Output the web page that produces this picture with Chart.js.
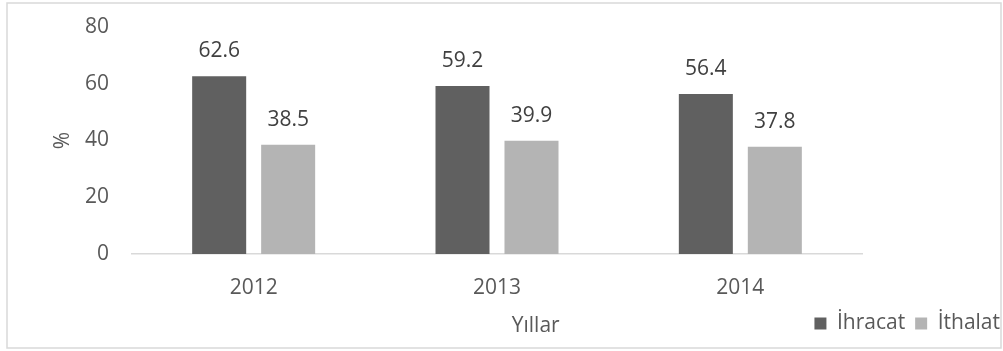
<!DOCTYPE html>
<html>
<head>
<meta charset="utf-8">
<script src="https://cdn.jsdelivr.net/npm/chart.js@4/dist/chart.umd.min.js"></script>
<style>
  html, body { margin: 0; padding: 0; background: #ffffff; }
  canvas { display: block; }
</style>
</head>
<body>
<canvas id="c" width="1003" height="351"></canvas>
<script>
// Years on the category axis
const years = ['2012', '2013', '2014'];
// Shares (%) per year
const ihracat = [62.6, 59.2, 56.4];
const ithalat = [38.5, 39.9, 37.8];
// Value axis ticks
const yTicks = [0, 20, 40, 60, 80];

const FONT = 'Open Sans';
const TEXT = '#595959';
const SIZE = 21;

// White background and thin frame round the whole chart
const frame = {
  id: 'frame',
  beforeDraw(chart) {
    const ctx = chart.ctx;
    ctx.save();
    ctx.fillStyle = '#ffffff';
    ctx.fillRect(0, 0, chart.width, chart.height);
    ctx.strokeStyle = '#d9d9d9';
    ctx.lineWidth = 1.5;
    ctx.strokeRect(7, 3, chart.width - 9, chart.height - 6);
    ctx.restore();
  }
};

// Value labels above each bar
const valueLabels = {
  id: 'valueLabels',
  afterDatasetsDraw(chart) {
    const ctx = chart.ctx;
    ctx.save();
    ctx.font = SIZE + 'px "' + FONT + '"';
    ctx.fillStyle = '#404040';
    ctx.textAlign = 'center';
    ctx.textBaseline = 'alphabetic';
    chart.data.datasets.forEach((ds, i) => {
      chart.getDatasetMeta(i).data.forEach((bar, j) => {
        ctx.fillText(ds.data[j].toFixed(1), bar.x, bar.y - 19);
      });
    });
    ctx.restore();
  }
};

// Category axis title, on the legend row
const xTitle = {
  id: 'xTitle',
  afterDraw(chart) {
    const ctx = chart.ctx;
    const lg = chart.legend;
    ctx.save();
    ctx.font = SIZE + 'px "' + FONT + '"';
    ctx.fillStyle = TEXT;
    ctx.textAlign = 'center';
    ctx.textBaseline = 'middle';
    ctx.fillText('Yıllar', chart.chartArea.left + (chart.chartArea.right - chart.chartArea.left) * 0.553, lg.top + lg.height / 2 + 3);
    ctx.restore();
  }
};

new Chart(document.getElementById('c'), {
  type: 'bar',
  data: {
    labels: years,
    datasets: [
      { label: 'İhracat', data: ihracat, backgroundColor: '#606060', borderWidth: 0,
        barPercentage: 0.783, categoryPercentage: 0.567 },
      { label: 'İthalat', data: ithalat, backgroundColor: '#b4b4b4', borderWidth: 0,
        barPercentage: 0.783, categoryPercentage: 0.567 }
    ]
  },
  options: {
    responsive: false,
    animation: false,
    devicePixelRatio: 1,
    layout: { padding: { left: 50, right: -7, top: 27, bottom: 7 } },
    plugins: {
      legend: {
        position: 'bottom',
        align: 'end',
        labels: {
          boxWidth: 12,
          boxHeight: 12,
          padding: 10,
          color: TEXT,
          font: { family: FONT, size: SIZE }
        }
      },
      tooltip: { enabled: false }
    },
    scales: {
      x: {
        grid: { display: false, drawTicks: false },
        border: { display: true, color: '#d9d9d9', width: 1.5 },
        ticks: { color: TEXT, padding: 21, font: { family: FONT, size: SIZE } },
        afterFit(s) { s.height = 49; }
      },
      y: {
        min: 0,
        max: 80,
        afterBuildTicks(s) { s.ticks = yTicks.map(v => ({ value: v })); },
        // hidden tick marks give the gap between labels and plot
        grid: { display: false, drawTicks: true, tickLength: 23 },
        border: { display: false },
        ticks: { color: TEXT, padding: 0, font: { family: FONT, size: SIZE } },
        title: { display: true, text: '%', color: TEXT, padding: 0, font: { family: FONT, size: SIZE } },
        afterFit(s) { s.width = 82; s.paddingTop = 0; s.paddingBottom = 0; }
      },
      // keeps the plot clear of the legend column on the right
      side: {
        type: 'linear',
        position: 'right',
        display: true,
        grid: { display: false, drawTicks: false },
        border: { display: false },
        ticks: { display: false },
        afterFit(s) { s.width = 148; s.paddingTop = 0; s.paddingBottom = 0; }
      }
    }
  },
  plugins: [frame, valueLabels, xTitle]
});
</script>
</body>
</html>
